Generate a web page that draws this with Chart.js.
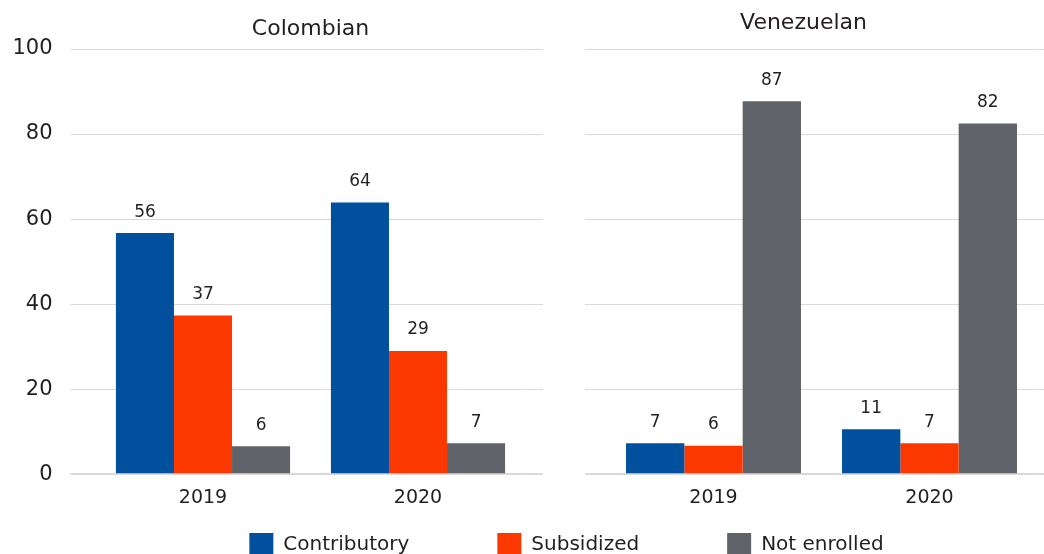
<!DOCTYPE html>
<html>
<head>
<meta charset="utf-8">
<script src="https://cdn.jsdelivr.net/npm/chart.js@4.4.0/dist/chart.umd.min.js"></script>
<style>
html,body{margin:0;padding:0;background:#fff;}
#wrap{position:relative;width:1044px;height:554px;overflow:hidden;background:#fff;}
canvas{position:absolute;}
</style>
</head>
<body>
<div id="wrap">
  <canvas id="legend" width="1044" height="400" style="left:0;top:445px;"></canvas>
  <canvas id="col" width="543" height="521" style="left:0;top:0;"></canvas>
  <canvas id="ven" width="481" height="521" style="left:563px;top:0;"></canvas>
</div>
<script>
// ---- data ----
const categories = ['2019', '2020'];
const seriesNames = ['Contributory', 'Subsidized', 'Not enrolled'];
const panelTitles = ['Colombian', 'Venezuelan'];
const yTicks = [0, 20, 40, 60, 80, 100];

const colContributory = [56.7, 63.9];
const colSubsidized   = [37.3, 29.0];
const colNotEnrolled  = [6.6, 7.3];
const venContributory = [7.3, 10.6];
const venSubsidized   = [6.7, 7.3];
const venNotEnrolled  = [87.7, 82.5];

const colContributoryLabels = ['56', '64'];
const colSubsidizedLabels   = ['37', '29'];
const colNotEnrolledLabels  = ['6', '7'];
const venContributoryLabels = ['7', '11'];
const venSubsidizedLabels   = ['6', '7'];
const venNotEnrolledLabels  = ['87', '82'];

// ---- style ----
const FONT = '"DejaVu Sans"';
const TEXT = '#231f20';
const GRID = '#d9d9d9';
const COLORS = ['#00509e', '#fa3800', '#5f6369'];

function datasets(a, b, c, la, lb, lc) {
  return [a, b, c].map((d, i) => ({
    label: seriesNames[i],
    data: d,
    valueLabels: [la, lb, lc][i],
    backgroundColor: COLORS[i],
    borderWidth: 0,
    categoryPercentage: 0.81,
    barPercentage: 1.0
  }));
}

const valueLabelPlugin = {
  id: 'valueLabels',
  afterDatasetsDraw(chart) {
    const ctx = chart.ctx;
    ctx.save();
    ctx.font = '17px ' + FONT;
    ctx.fillStyle = TEXT;
    ctx.textAlign = 'center';
    ctx.textBaseline = 'middle';
    chart.data.datasets.forEach((ds, i) => {
      const meta = chart.getDatasetMeta(i);
      if (!ds.valueLabels) return;
      meta.data.forEach((bar, j) => {
        ctx.fillText(ds.valueLabels[j], bar.x, bar.y - 21);
      });
    });
    ctx.restore();
  }
};

const gridLineWidth = (ctx) => (ctx.tick && ctx.tick.value === 0 ? 2 : 1);
const setTicks = (s) => { s.ticks = yTicks.map(v => ({ value: v })); };

function yScale(showLabels, tickLen, width, position, onArea) {
  return {
    position: position,
    min: 0, max: 100,
    afterBuildTicks: setTicks,
    afterFit: (s) => { s.width = width; },
    border: { display: false },
    grid: { color: GRID, lineWidth: gridLineWidth, tickLength: tickLen, drawTicks: true, drawOnChartArea: onArea },
    ticks: { display: showLabels, padding: 18, color: TEXT, font: { family: FONT, size: 21 } }
  };
}

const xScale = {
  type: 'category',
  grid: { display: false, drawTicks: false },
  border: { display: false },
  ticks: { color: TEXT, padding: 12, font: { family: FONT, size: 19 } }
};

Chart.defaults.font.family = FONT;

new Chart(document.getElementById('col'), {
  type: 'bar',
  data: { labels: categories, datasets: datasets(colContributory, colSubsidized, colNotEnrolled, colContributoryLabels, colSubsidizedLabels, colNotEnrolledLabels) },
  options: {
    responsive: false, animation: false, devicePixelRatio: 1,
    layout: { padding: 0 },
    plugins: { legend: { display: false }, tooltip: { enabled: false }, title: { display: false } },
    scales: {
      x: xScale,
      x2: {
        type: 'category', position: 'top',
        grid: { display: false, drawTicks: false }, border: { display: false },
        ticks: { display: false },
        title: { display: true, text: panelTitles[0], color: TEXT, font: { family: FONT, size: 22 }, padding: { top: 16, bottom: 6.6 } }
      },
      y: yScale(true, 25, 95.5, 'left', true),
      y2: yScale(false, 17.5, 17.5, 'right', false)
    }
  },
  plugins: [valueLabelPlugin]
});

new Chart(document.getElementById('ven'), {
  type: 'bar',
  data: { labels: categories, datasets: datasets(venContributory, venSubsidized, venNotEnrolled, venContributoryLabels, venSubsidizedLabels, venNotEnrolledLabels) },
  options: {
    responsive: false, animation: false, devicePixelRatio: 1,
    layout: { padding: 0 },
    plugins: {
      legend: { display: false }, tooltip: { enabled: false },
      title: { display: true, text: panelTitles[1], color: TEXT, font: { family: FONT, size: 22, weight: 'normal' }, padding: { top: 10, bottom: 12.6 } }
    },
    scales: {
      x: xScale,
      y: yScale(false, 20.5, 42.5, 'left', true),
      y2: yScale(false, 6.5, 6.5, 'right', false)
    }
  },
  plugins: [valueLabelPlugin]
});

new Chart(document.getElementById('legend'), {
  type: 'bar',
  data: { labels: [], datasets: seriesNames.map((n, i) => ({ label: n, data: [], backgroundColor: COLORS[i], borderWidth: 0 })) },
  options: {
    responsive: false, animation: false, devicePixelRatio: 1,
    layout: { padding: { left: 89, right: 0, top: 0, bottom: 0 } },
    scales: { x: { display: false }, y: { display: false } },
    plugins: {
      tooltip: { enabled: false },
      legend: {
        display: true, position: 'top',
        labels: { boxWidth: 24, boxHeight: 24, padding: 88, color: TEXT, font: { family: FONT, size: 20 } }
      }
    }
  }
});
</script>
</body>
</html>
